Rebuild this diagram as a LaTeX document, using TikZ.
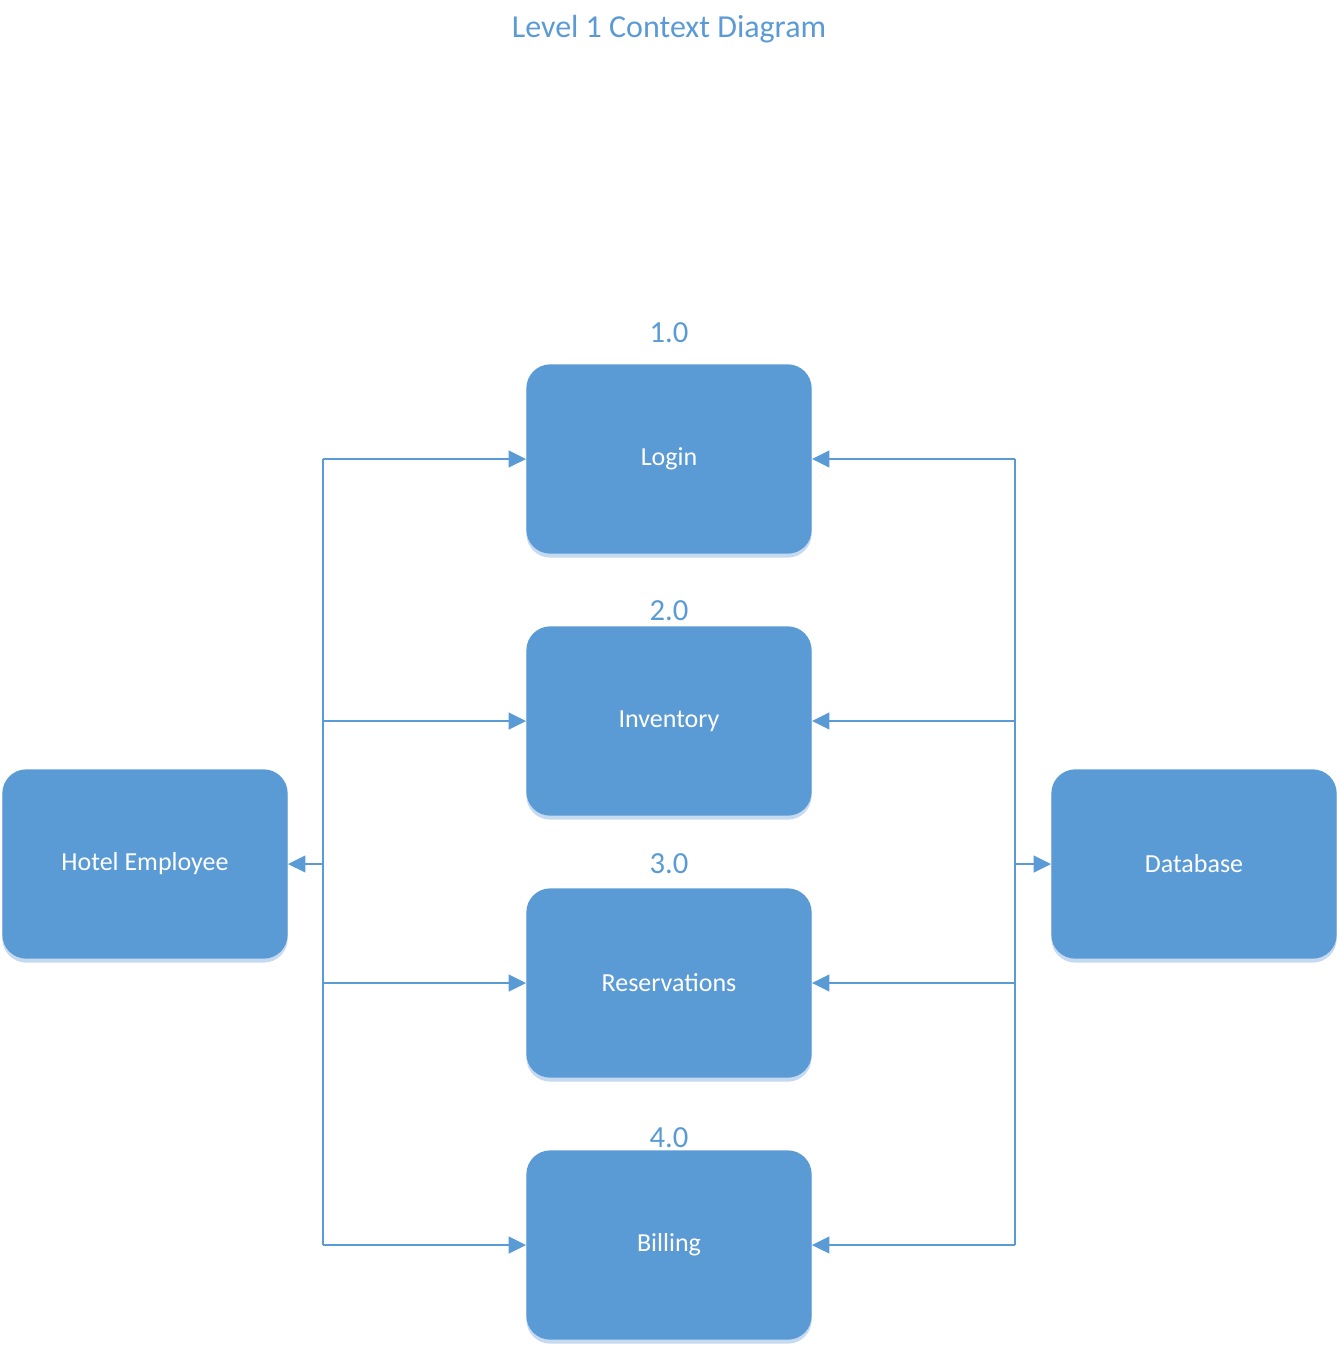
\documentclass[tikz,border=0pt]{standalone}
\usepackage{fontspec}
\setmainfont{Carlito}
\usepackage{tikz}
\usetikzlibrary{arrows.meta,shadows}
\definecolor{boxblue}{HTML}{5B9BD5}
\definecolor{shadeblue}{HTML}{C5DAF0}
\tikzset{
    procbox/.style={draw=none, fill=boxblue, rounded corners=18pt, minimum width=214pt, minimum height=142pt,
        text=white, font=\fontsize{19.5}{23}\selectfont,
        drop shadow={shadow xshift=0pt, shadow yshift=-3pt, fill=shadeblue, opacity=1}},
    numlabel/.style={text=boxblue, font=\fontsize{23}{27}\selectfont},
    flow/.style={draw=boxblue, line width=1.6pt, -{Triangle[length=13pt,width=12.5pt]}},
    bus/.style={draw=boxblue, line width=1.6pt}
}
\newcommand{\procnode}[3]{
    \node[procbox] (#1) at (#2) {#3};
}

\begin{document}
\begin{tikzpicture}[x=0.75pt,y=-0.75pt]
        \useasboundingbox (0,0) rectangle (1339,1348);
        % title
        \node[text=boxblue, font=\fontsize{24}{28}\selectfont] (title) at (669,29) {Level 1 Context Diagram};
        % processes
        \procnode{login}{669,459}{Login}
        \procnode{inventory}{669,721}{Inventory}
        \procnode{reservations}{669,983}{Reservations}
        \procnode{billing}{669,1245}{Billing}
        \procnode{employee}{145,864}{Hotel Employee}
        \procnode{database}{1194,864}{Database}
        \node[numlabel] (num1) at (669,333) {1.0};
        \node[numlabel] (num2) at (669,611) {2.0};
        \node[numlabel] (num3) at (669,864) {3.0};
        \node[numlabel] (num4) at (669,1138) {4.0};
        % buses
        \coordinate (lbus) at (323,864);
        \coordinate (rbus) at (1015,864);
        \draw[bus] (lbus |- login.west) -- (lbus |- billing.west);
        \draw[bus] (rbus |- login.east) -- (rbus |- billing.east);
        \draw[flow] (lbus) -- (employee.east);
        \draw[flow] (rbus) -- (database.west);
        \foreach \p in {login,inventory,reservations,billing} {
            \draw[flow] (lbus |- \p.west) -- (\p.west);
            \draw[flow] (rbus |- \p.east) -- (\p.east);
        }
    \end{tikzpicture}
\end{document}
